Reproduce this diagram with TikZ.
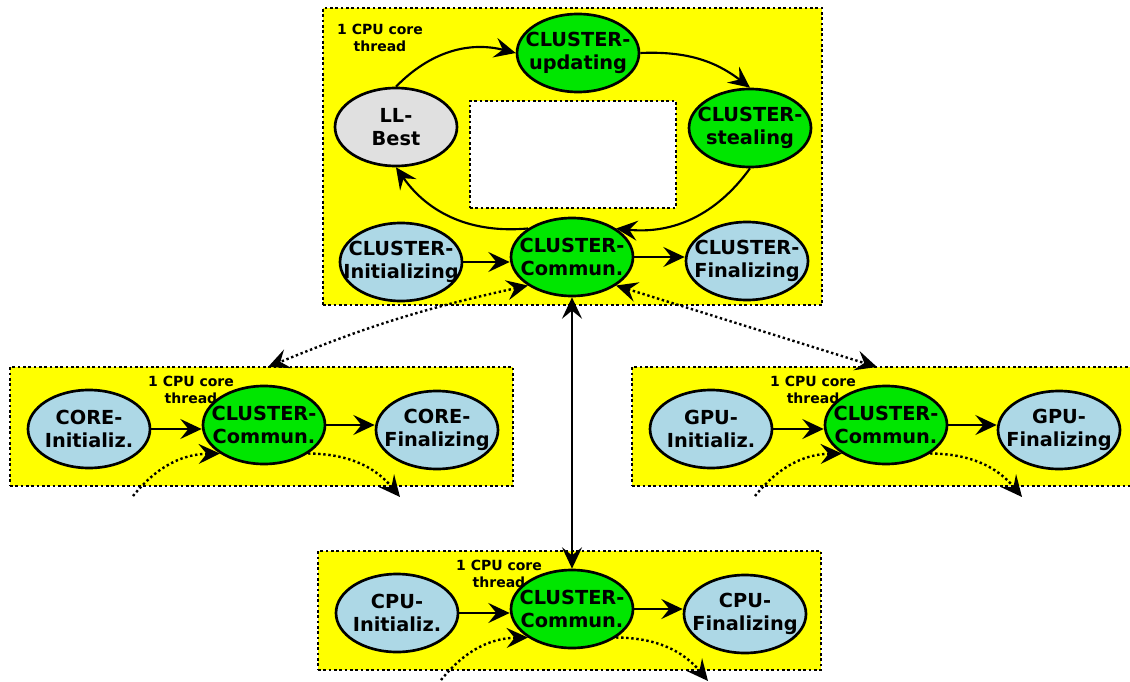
\documentclass[tikz,border=0pt]{standalone}
\usepackage{fontspec}
\setmainfont{DejaVu Sans}
\usetikzlibrary{shapes.geometric,arrows.meta,fit}
\definecolor{threadyellow}{RGB}{255,255,0}
\definecolor{commgreen}{RGB}{0,230,0}
\definecolor{phaseblue}{RGB}{173,216,230}
\definecolor{bestgrey}{RGB}{224,224,224}
\newcommand\twolines[2]{\makebox[0pt]{#1}\\\makebox[0pt]{#2}}

\begin{document}
\begin{tikzpicture}
[x=0.75pt,y=-0.75pt,
  threadbox/.style={draw,dotted,line width=2pt,fill=threadyellow,inner sep=0pt},%
  holebox/.style={draw,dotted,line width=2pt,fill=white,inner sep=0pt},
  threadlabel/.style={align=center,inner sep=0pt,font=\fontsize{10.5}{12.5}\selectfont\bfseries},
  nodedecorate/.style={shape=ellipse,draw,line width=2pt,inner sep=0pt,
    minimum width=91.5pt,minimum height=58.5pt,align=center,
    text=black,font=\fontsize{14.5}{17}\selectfont\bfseries},
  green/.style={nodedecorate,fill=commgreen},
  blue/.style={nodedecorate,fill=phaseblue},
  grey/.style={nodedecorate,fill=bestgrey},
  >={Stealth[length=16pt,width=15pt,inset=6pt]},
  arrowdecorate/.style={->,line width=1.6pt},
  dotdecorate/.style={->,dotted,line width=1.8pt}]
\clip (0,0) rectangle (1130,681);
%% cluster thread
\node (topbox) [threadbox,fit={(323,8) (822,305)}] {};
\node (toplabel) [threadlabel] at (380,38) {1 CPU core\\thread};
\node (hole) [holebox,fit={(470,101) (676,208)}] {};
\foreach \nodename/\x/\y/\kind/\lineone/\linetwo in {
  llbest/396/127/grey/LL-/Best, cupd/578/53/green/CLUSTER-/updating,
  csteal/750/128/green/CLUSTER-/stealing, cinit/401/262/blue/CLUSTER-/Initializing,
  ccomm/572/257/green/CLUSTER-/Commun., cfin/747/261/blue/CLUSTER-/Finalizing} {
  \node (\nodename) at (\x,\y) [\kind] {\twolines{\lineone}{\linetwo}};
}
\path
\foreach \startnode/\endnode/\bend in {llbest.north/cupd.west/30,
  cupd.east/csteal.north/20, csteal.south/ccomm.north east/30,
  ccomm.north west/llbest.south/30} {
  (\startnode) edge[arrowdecorate,bend left=\bend] (\endnode)
};
\draw[arrowdecorate] (cinit.east) -- (cinit.east -| ccomm.west);
\draw[arrowdecorate] (ccomm.east) -- (ccomm.east -| cfin.west);
%% core, gpu and cpu threads
\foreach \pre/\word/\cx/\cy in {core/CORE/264/425, gpu/GPU/886/425, cpu/CPU/572/609} {
  \begin{scope}[shift={(\cx,\cy)}]
    \node (\pre box) [threadbox,fit={(-254,-58) (249,61)}] {};
    \node (\pre label) [threadlabel] at (-73,-35) {1 CPU core\\thread};
    \node (\pre init) at (-175,4) [blue] {\twolines{\word-}{Initializ.}};
    \node (\pre comm) at (0,0) [green] {\twolines{CLUSTER-}{Commun.}};
    \node (\pre fin) at (173,5) [blue] {\twolines{\word-}{Finalizing}};
    \coordinate (\pre in) at (-131,71);
    \coordinate (\pre out) at (136,72);
    \draw[arrowdecorate] (\pre init.east) -- (\pre init.east -| \pre comm.west);
    \draw[arrowdecorate] (\pre comm.east) -- (\pre comm.east -| \pre fin.west);
    \draw[dotdecorate] (\pre in) to[bend left=25] (\pre comm.south west);
    \draw[dotdecorate] (\pre comm.south east) to[bend left=25] (\pre out);
  \end{scope}
}
%% links between threads
\coordinate (coretop) at (268,367);
\coordinate (gputop) at (877,367);
\draw[<->,line width=1.6pt] (ccomm.south) -- (cpucomm.north);
\draw[<->,dotted,line width=1.8pt] (ccomm.south west) to[bend right=5] (coretop);
\draw[<->,dotted,line width=1.8pt] (ccomm.south east) -- (gputop);
\end{tikzpicture}
\end{document}
